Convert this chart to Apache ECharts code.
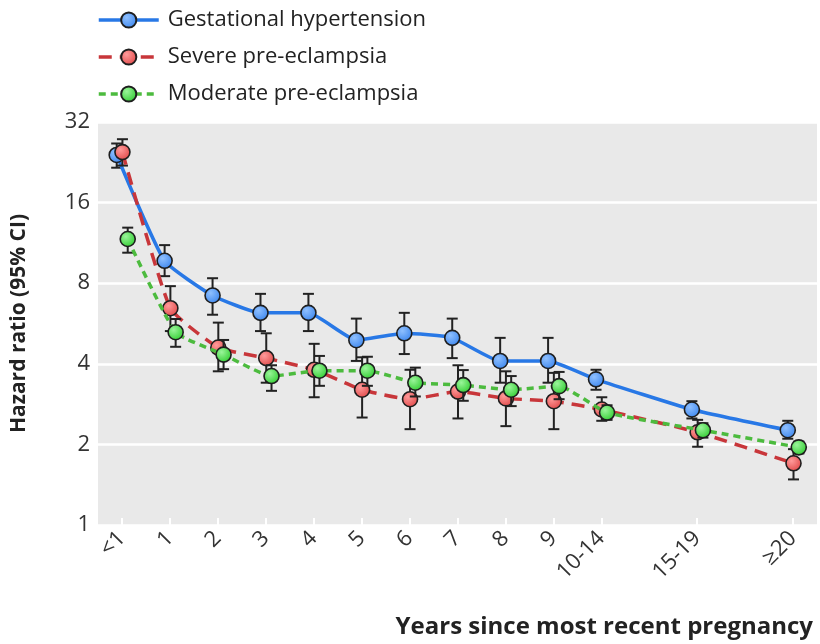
<!DOCTYPE html>
<html>
<head>
<meta charset="utf-8">
<script src="https://cdn.jsdelivr.net/npm/echarts@6/dist/echarts.min.js"></script>
<style>html,body{margin:0;padding:0;background:#fff;}#c{width:820px;height:644px;}</style>
</head>
<body>
<div id="c"></div>
<script>
// x positions of the year groups and their tick labels
const xPos = [0, 1, 2, 3, 4, 5, 6, 7, 8, 9, 10, 12, 14];
const xLabels = ['<1', '1', '2', '3', '4', '5', '6', '7', '8', '9', '10-14', '15-19', '≥20'];
const yTicks = [1, 2, 4, 8, 16, 32];

// Gestational hypertension
const ghHR   = [24.1, 9.7, 7.2, 6.2, 6.2, 4.9, 5.2, 5.0, 4.1, 4.1, 3.5, 2.7, 2.26];
const ghLow  = [21.6, 8.5, 6.1, 5.3, 5.3, 4.1, 4.35, 4.2, 3.4, 3.4, 3.2, 2.5, 2.1];
const ghHigh = [26.6, 11.1, 8.35, 7.3, 7.3, 5.9, 6.2, 5.9, 5.0, 5.0, 3.8, 2.9, 2.45];

// Severe pre-eclampsia
const sevHR   = [24.7, 6.45, 4.6, 4.2, 3.8, 3.2, 2.95, 3.15, 2.97, 2.9, 2.7, 2.22, 1.7];
const sevLow  = [22.0, 5.3, 3.75, 3.4, 3.0, 2.52, 2.28, 2.5, 2.34, 2.28, 2.45, 1.96, 1.48];
const sevHigh = [27.6, 7.8, 5.7, 5.2, 4.75, 4.23, 3.8, 3.95, 3.75, 3.7, 3.0, 2.47, 1.92];

// Moderate pre-eclampsia
const modHR   = [11.7, 5.25, 4.33, 3.6, 3.77, 3.77, 3.4, 3.33, 3.2, 3.3, 2.63, 2.26, 1.95];
const modLow  = [10.4, 4.63, 3.82, 3.17, 3.31, 3.31, 3.02, 2.91, 2.78, 2.95, 2.47, 2.12, 1.85];
const modHigh = [12.9, 5.88, 4.91, 3.95, 4.28, 4.25, 3.87, 3.79, 3.6, 3.73, 2.8, 2.4, 2.05];

const FONT = '"Open Sans", "Noto Sans", sans-serif';

function radial(light, base) {
  return {type: 'radial', x: 0.38, y: 0.35, r: 0.7,
    colorStops: [{offset: 0, color: light}, {offset: 1, color: base}]};
}

const groups = [
  {name: 'Gestational hypertension', hr: ghHR, lo: ghLow, hi: ghHigh, dx: -0.11,
   line: '#2878e6', type: 'solid', fill: radial('#8fc0ff', '#3c86ee')},
  {name: 'Severe pre-eclampsia', hr: sevHR, lo: sevLow, hi: sevHigh, dx: 0.01,
   line: '#c8363a', type: [13, 8], fill: radial('#ff9a9a', '#e04848')},
  {name: 'Moderate pre-eclampsia', hr: modHR, lo: modLow, hi: modHigh, dx: 0.12,
   line: '#4cbb3e', type: [7, 5], fill: radial('#9af59a', '#2fcc2f')}
];

const series = [];
groups.forEach((g, gi) => {
  series.push({
    type: 'custom',
    name: g.name + ' CI',
    z: 2 + gi * 2,
    encode: {x: 0, y: [1, 2]},
    data: xPos.map((x, i) => [x + g.dx, g.lo[i], g.hi[i]]),
    renderItem: function (params, api) {
      const x = api.value(0);
      const lo = api.coord([x, api.value(1)]);
      const hi = api.coord([x, api.value(2)]);
      const w = 5.5;
      const st = {stroke: '#222', lineWidth: 2};
      return {type: 'group', children: [
        {type: 'line', shape: {x1: lo[0], y1: lo[1], x2: hi[0], y2: hi[1]}, style: st},
        {type: 'line', shape: {x1: lo[0] - w, y1: lo[1], x2: lo[0] + w, y2: lo[1]}, style: st},
        {type: 'line', shape: {x1: hi[0] - w, y1: hi[1], x2: hi[0] + w, y2: hi[1]}, style: st}
      ]};
    },
    silent: true
  });
  series.push({
    type: 'line',
    name: g.name,
    z: 3 + gi * 2,
    smooth: 0.15,
    data: xPos.map((x, i) => [x + g.dx, g.hr[i]]),
    symbol: 'circle',
    symbolSize: 15,
    lineStyle: {color: g.line, width: 3.5, type: g.type},
    itemStyle: {color: g.fill, borderColor: '#1e1e1e', borderWidth: 1.6},
    emphasis: {disabled: true}
  });
});

const chart = echarts.init(document.getElementById('c'), null, {renderer: 'canvas'});
chart.setOption({
  animation: false,
  backgroundColor: '#ffffff',
  textStyle: {fontFamily: FONT},
  title: {
    text: 'Years since most recent pregnancy',
    right: 2, top: 610,
    textStyle: {fontFamily: FONT, fontWeight: 'bold', fontSize: 24, color: '#222'}
  },
  legend: {
    data: groups.map(g => g.name),
    orient: 'vertical',
    left: 92, top: 4,
    itemWidth: 60, itemHeight: 19, itemGap: 15,
    lineStyle: {width: 3.5},
    textStyle: {fontFamily: FONT, fontSize: 22, color: '#222', padding: [0, 0, 0, 4]},
    selectedMode: false
  },
  grid: {
    left: 98, right: 3, top: 122, bottom: 119,
    show: true, backgroundColor: '#e9e9e9', borderWidth: 0,
    containLabel: false
  },
  xAxis: {
    type: 'value', min: -0.5, max: 14.5,
    axisLine: {show: false},
    splitLine: {show: false},
    axisTick: {show: true, inside: true, length: 7, customValues: xPos,
      lineStyle: {color: '#ffffff', width: 2}},
    axisLabel: {
      customValues: xPos, rotate: 45, fontSize: 22, color: '#333', margin: 10,
      fontFamily: FONT,
      formatter: function (v) { const i = xPos.indexOf(v); return i >= 0 ? xLabels[i] : ''; }
    }
  },
  yAxis: {
    type: 'log', logBase: 2, min: yTicks[0], max: yTicks[yTicks.length - 1],
    axisLine: {show: false},
    axisTick: {show: false},
    splitLine: {show: true, lineStyle: {color: '#ffffff', width: 2.5}},
    axisLabel: {fontSize: 22, color: '#333', margin: 8, fontFamily: FONT},
    name: 'Hazard ratio (95% CI)',
    nameLocation: 'middle', nameRotate: 90, nameGap: 68,
    nameTextStyle: {fontFamily: FONT, fontWeight: 'bold', fontSize: 21, color: '#222'}
  },
  series: series
});
</script>
</body>
</html>
